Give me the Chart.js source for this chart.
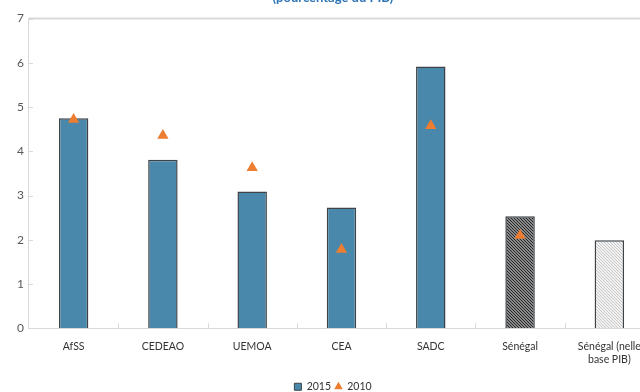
<!DOCTYPE html>
<html>
<head>
<meta charset="utf-8">
<script src="https://cdn.jsdelivr.net/npm/chart.js@4"></script>
<style>
  html, body { margin: 0; padding: 0; background: #fff; overflow: hidden; width: 640px; height: 392px; }
  #wrap { position: absolute; left: 0; top: -14px; width: 676px; height: 416px; }
</style>
</head>
<body>
<div id="wrap"><canvas id="chart"></canvas></div>
<script>
const categories = ['AfSS', 'CEDEAO', 'UEMOA', 'CEA', 'SADC', 'Sénégal', ['Sénégal (nelle', 'base PIB)']];
const values2015 = [4.75, 3.81, 3.09, 2.73, 5.92, 2.53, 1.99];
const values2010 = [4.72, 4.36, 3.63, 1.78, 4.58, 2.10, null];
const yTicks = [0, 1, 2, 3, 4, 5, 6, 7];

const BLUE = '#4a88ab';
const ORANGE = '#ed7d31';

function hatch(bg, fg, size) {
  const c = document.createElement('canvas');
  c.width = size; c.height = size;
  const ctx = c.getContext('2d');
  ctx.fillStyle = bg;
  ctx.fillRect(0, 0, size, size);
  ctx.strokeStyle = fg;
  ctx.lineWidth = 1;
  ctx.beginPath();
  ctx.moveTo(0, 0); ctx.lineTo(size, size);
  ctx.moveTo(-1, size - 1); ctx.lineTo(1, size + 1);
  ctx.moveTo(size - 1, -1); ctx.lineTo(size + 1, 1);
  ctx.stroke();
  return ctx.createPattern(c, 'repeat');
}

const darkHatch = hatch('#8a8a8a', '#262626', 3);
const lightHatch = hatch('#f2f2f2', '#c8c8c8', 3);

// frame top line + inside ticks
const frame = {
  id: 'frame',
  afterDraw(chart) {
    const ctx = chart.ctx, a = chart.chartArea;
    const x = chart.scales.x, y = chart.scales.y;
    ctx.save();
    ctx.strokeStyle = '#d9d9d9';
    ctx.lineWidth = 2;
    ctx.beginPath();
    ctx.moveTo(a.left, a.top);
    ctx.lineTo(a.right, a.top);
    ctx.stroke();
    ctx.lineWidth = 1;
    ctx.beginPath();
    yTicks.forEach(v => {
      const py = Math.round(y.getPixelForValue(v)) + 0.5;
      ctx.moveTo(a.left, py);
      ctx.lineTo(a.left + 4, py);
    });
    for (let i = 1; i < categories.length; i++) {
      const px = Math.round((x.getPixelForValue(i - 1) + x.getPixelForValue(i)) / 2) + 0.5;
      ctx.moveTo(px, a.bottom);
      ctx.lineTo(px, a.bottom - 5);
    }
    ctx.stroke();
    ctx.restore();
  }
};

new Chart(document.getElementById('chart'), {
  data: {
    labels: categories,
    datasets: [
      {
        type: 'line',
        label: '2010',
        data: values2010,
        showLine: false,
        pointStyle: 'triangle',
        pointRadius: 6.5,
        pointHoverRadius: 6.5,
        backgroundColor: ORANGE,
        borderColor: ORANGE,
        pointBorderWidth: 0,
        order: 0
      },
      {
        type: 'bar',
        label: '2015',
        data: values2015,
        backgroundColor: [BLUE, BLUE, BLUE, BLUE, BLUE, darkHatch, lightHatch],
        borderColor: '#3d4347',
        borderWidth: 1.5,
        barPercentage: 0.33,
        categoryPercentage: 1,
        pointStyle: 'rect',
        order: 1
      }
    ]
  },
  options: {
    responsive: true,
    maintainAspectRatio: false,
    animation: false,
    layout: { padding: { left: 12, right: 22, top: 0, bottom: 0 } },
    plugins: {
      title: {
        display: true,
        text: '(pourcentage du PIB)',
        color: '#2f75b5',
        font: { family: 'Lato', size: 13, weight: 'bold' },
        padding: { top: 4, bottom: 13 }
      },
      legend: {
        position: 'bottom',
        reverse: true,
        labels: {
          usePointStyle: true,
          boxWidth: 7,
          boxHeight: 7,
          padding: 4,
          color: '#333',
          font: { family: 'Lato', size: 10.5 },
          generateLabels(chart) {
            const items = Chart.defaults.plugins.legend.labels.generateLabels(chart);
            items.forEach(it => {
              if (it.text === '2015') {
                it.fillStyle = BLUE;
                it.strokeStyle = '#3d4347';
                it.lineWidth = 1;
                it.pointStyle = 'rect';
              } else {
                it.lineWidth = 0;
                it.pointStyle = 'triangle';
              }
            });
            return items;
          }
        }
      },
      tooltip: { enabled: false }
    },
    scales: {
      x: {
        grid: { display: false, drawTicks: false },
        border: { display: true, color: '#d9d9d9' },
        ticks: { color: '#333', font: { family: 'Lato', size: 10.5 }, maxRotation: 0, autoSkip: false, padding: 12 }
      },
      y: {
        min: 0,
        max: 7,
        grid: { display: false, drawTicks: false },
        border: { display: true, color: '#d9d9d9' },
        ticks: { stepSize: 1, color: '#595959', font: { family: 'Lato', size: 12 }, padding: 5 }
      }
    }
  },
  plugins: [frame]
});
</script>
</body>
</html>
